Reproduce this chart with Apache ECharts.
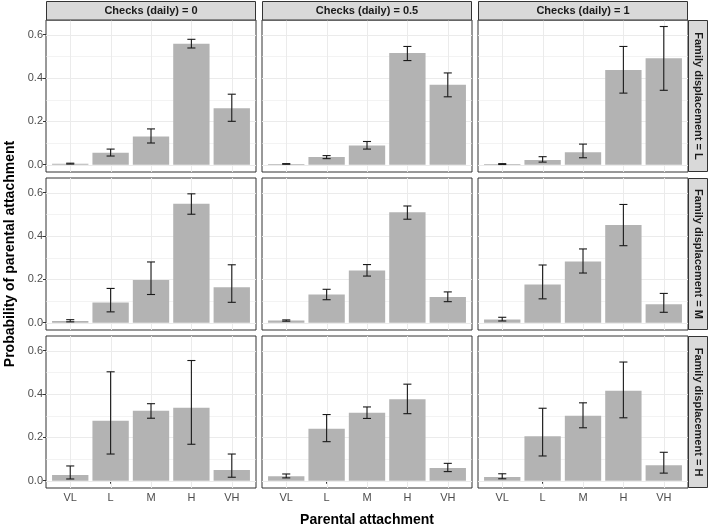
<!DOCTYPE html>
<html><head><meta charset="utf-8">
<script src="https://cdn.jsdelivr.net/npm/echarts@6/dist/echarts.min.js"></script>
<style>html,body{margin:0;padding:0;background:#fff}#c{width:709px;height:530px}</style>
</head><body><div id="c"></div>
<script>
// ---------- data ----------
const categories = ['VL', 'L', 'M', 'H', 'VH'];
const checkLevels = ['0', '0.5', '1'];
const displacementLevels = ['L', 'M', 'H'];
const yTickValues = [0, 0.2, 0.4, 0.6];
const yMinorValues = [0.1, 0.3, 0.5];

// Family displacement = L
const est_L_0 = [0.005, 0.055, 0.130, 0.558, 0.260];
const lo_L_0  = [0.003, 0.040, 0.100, 0.538, 0.200];
const hi_L_0  = [0.007, 0.072, 0.165, 0.578, 0.325];
const est_L_05 = [0.003, 0.035, 0.088, 0.515, 0.368];
const lo_L_05  = [0.002, 0.028, 0.072, 0.480, 0.313];
const hi_L_05  = [0.005, 0.042, 0.107, 0.545, 0.423];
const est_L_1 = [0.003, 0.022, 0.057, 0.436, 0.491];
const lo_L_1  = [0.001, 0.012, 0.032, 0.330, 0.343];
const hi_L_1  = [0.005, 0.037, 0.095, 0.545, 0.637];
// Family displacement = M
const est_M_0 = [0.008, 0.093, 0.197, 0.548, 0.164];
const lo_M_0  = [0.004, 0.050, 0.130, 0.500, 0.094];
const hi_M_0  = [0.014, 0.158, 0.280, 0.594, 0.267];
const est_M_05 = [0.010, 0.130, 0.241, 0.509, 0.119];
const lo_M_05  = [0.007, 0.106, 0.215, 0.477, 0.097];
const hi_M_05  = [0.013, 0.154, 0.268, 0.538, 0.142];
const est_M_1 = [0.015, 0.176, 0.282, 0.450, 0.085];
const lo_M_1  = [0.008, 0.110, 0.229, 0.355, 0.048];
const hi_M_1  = [0.025, 0.266, 0.340, 0.545, 0.135];
// Family displacement = H
const est_H_0 = [0.026, 0.276, 0.322, 0.336, 0.049];
const lo_H_0  = [0.008, 0.123, 0.288, 0.168, 0.016];
const hi_H_0  = [0.068, 0.502, 0.355, 0.554, 0.123];
const est_H_05 = [0.021, 0.239, 0.313, 0.376, 0.059];
const lo_H_05  = [0.013, 0.180, 0.287, 0.309, 0.042];
const hi_H_05  = [0.031, 0.305, 0.340, 0.445, 0.080];
const est_H_1 = [0.017, 0.205, 0.299, 0.415, 0.071];
const lo_H_1  = [0.009, 0.114, 0.244, 0.290, 0.035];
const hi_H_1  = [0.032, 0.334, 0.359, 0.547, 0.131];

const panels = [
  [[est_L_0, lo_L_0, hi_L_0], [est_L_05, lo_L_05, hi_L_05], [est_L_1, lo_L_1, hi_L_1]],
  [[est_M_0, lo_M_0, hi_M_0], [est_M_05, lo_M_05, hi_M_05], [est_M_1, lo_M_1, hi_M_1]],
  [[est_H_0, lo_H_0, hi_H_0], [est_H_05, lo_H_05, hi_H_05], [est_H_1, lo_H_1, hi_H_1]]
];

// ---------- layout / style ----------
const FONT = '"Liberation Sans", Arial, sans-serif';
const LEFT0 = 46, PW = 210, HGAP = 6;
const TOP0 = 20, PH = 152, VGAP = 6;
const Y_MIN = -0.0336, Y_MAX = 0.667;
const X_MIN = 0.4, X_MAX = 5.6;
const BAR_FILL = '#B3B3B3';
const GRID_COL = '#EBEBEB';
const STRIP_FILL = '#D9D9D9';
const BORDER = '#333333';

const grids = [], xAxes = [], yAxes = [], series = [], graphics = [];
let gi = 0;
for (let r = 0; r < 3; r++) {
  for (let c = 0; c < 3; c++) {
    const left = LEFT0 + c * (PW + HGAP);
    const top = TOP0 + r * (PH + VGAP);
    grids.push({left: left, top: top, width: PW, height: PH, show: true,
      backgroundColor: '#fff', borderColor: BORDER, borderWidth: 1, containLabel: false});
    const bottomRow = r === 2, leftCol = c === 0;
    xAxes.push({type: 'value', gridIndex: gi, min: X_MIN, max: X_MAX,
      axisLine: {show: false}, splitLine: {show: false},
      axisTick: {show: bottomRow, length: 3, lineStyle: {color: BORDER}, customValues: [1, 2, 3, 4, 5]},
      axisLabel: {show: bottomRow, customValues: [1, 2, 3, 4, 5], margin: 4,
        formatter: v => categories[Math.round(v) - 1] || '', color: '#4D4D4D', fontSize: 11, fontFamily: FONT}
    });
    yAxes.push({type: 'value', gridIndex: gi, min: Y_MIN, max: Y_MAX,
      axisLine: {show: false}, splitLine: {show: false},
      axisTick: {show: leftCol, length: 3, lineStyle: {color: BORDER}, customValues: yTickValues},
      axisLabel: {show: leftCol, customValues: yTickValues, margin: 3,
        formatter: v => Number(v).toFixed(1), color: '#4D4D4D', fontSize: 11, fontFamily: FONT}
    });
    // gridlines: [kind, value]  kind 0 = major h, 1 = minor h, 2 = major v
    const gridData = [];
    yMinorValues.forEach(v => gridData.push([1, v]));
    yTickValues.forEach(v => gridData.push([0, v]));
    categories.forEach((_, i) => gridData.push([2, i + 1]));
    series.push({type: 'custom', xAxisIndex: gi, yAxisIndex: gi, silent: true, z: 1,
      data: gridData, encode: {x: -1, y: -1},
      renderItem: (params, api) => {
        const kind = api.value(0), v = api.value(1);
        const cs = params.coordSys;
        if (kind === 2) {
          const x = Math.round(api.coord([v, 0])[0]) + 0.5;
          return {type: 'line', shape: {x1: x, y1: cs.y, x2: x, y2: cs.y + cs.height},
            style: {stroke: GRID_COL, lineWidth: 1}};
        }
        const y = Math.round(api.coord([1, v])[1]) + 0.5;
        return {type: 'line', shape: {x1: cs.x, y1: y, x2: cs.x + cs.width, y2: y},
          style: {stroke: GRID_COL, lineWidth: kind === 0 ? 1 : 0.6}};
      }
    });
    const [est, lo, hi] = panels[r][c];
    const barData = categories.map((_, i) => [i + 1, est[i], lo[i], hi[i]]);
    series.push({type: 'custom', xAxisIndex: gi, yAxisIndex: gi, z: 2,
      data: barData, encode: {x: 0, y: 1},
      renderItem: (params, api) => {
        const x = api.value(0), y = api.value(1);
        const p0 = api.coord([x - 0.45, y]);
        const p1 = api.coord([x + 0.45, 0]);
        return {type: 'rect', shape: {x: p0[0], y: p0[1], width: p1[0] - p0[0], height: p1[1] - p0[1]},
          style: {fill: BAR_FILL}};
      }
    });
    series.push({type: 'custom', xAxisIndex: gi, yAxisIndex: gi, z: 3,
      data: barData, encode: {x: 0, y: [2, 3]},
      renderItem: (params, api) => {
        const x = api.value(0);
        const pl = api.coord([x, api.value(2)]);
        const ph = api.coord([x, api.value(3)]);
        const cl = api.coord([x - 0.1, 0])[0], cr = api.coord([x + 0.1, 0])[0];
        const st = {stroke: '#1A1A1A', lineWidth: 1.1};
        return {type: 'group', children: [
          {type: 'line', shape: {x1: pl[0], y1: pl[1], x2: ph[0], y2: ph[1]}, style: st},
          {type: 'line', shape: {x1: cl, y1: pl[1], x2: cr, y2: pl[1]}, style: st},
          {type: 'line', shape: {x1: cl, y1: ph[1], x2: cr, y2: ph[1]}, style: st}
        ]};
      }
    });
    gi++;
  }
}

// strips (top)
for (let c = 0; c < 3; c++) {
  const left = LEFT0 + c * (PW + HGAP);
  graphics.push({type: 'rect', shape: {x: left + 0.5, y: 1.5, width: PW - 1, height: TOP0 - 1.5},
    style: {fill: STRIP_FILL, stroke: BORDER, lineWidth: 1}, z: 10});
  graphics.push({type: 'text', x: left + PW / 2, y: (TOP0 + 2) / 2,
    style: {text: 'Checks (daily) = ' + checkLevels[c], fill: '#1A1A1A', font: 'bold 11px ' + FONT,
      align: 'center', verticalAlign: 'middle'}, z: 11});
}
// strips (right)
const stripX = LEFT0 + 3 * PW + 2 * HGAP;
for (let r = 0; r < 3; r++) {
  const top = TOP0 + r * (PH + VGAP);
  graphics.push({type: 'rect', shape: {x: stripX + 0.5, y: top + 0.5, width: 19, height: PH - 1},
    style: {fill: STRIP_FILL, stroke: BORDER, lineWidth: 1}, z: 10});
  graphics.push({type: 'text', x: stripX + 10.5, y: top + PH / 2, rotation: -Math.PI / 2,
    style: {text: 'Family displacement = ' + displacementLevels[r], fill: '#1A1A1A', font: 'bold 11px ' + FONT,
      align: 'center', verticalAlign: 'middle'}, z: 11});
}
// axis titles
graphics.push({type: 'text', x: LEFT0 + (3 * PW + 2 * HGAP) / 2, y: 520,
  style: {text: 'Parental attachment', fill: '#000', font: 'bold 14px ' + FONT, align: 'center', verticalAlign: 'middle'}});
graphics.push({type: 'text', x: 10, y: TOP0 + (3 * PH + 2 * VGAP) / 2, rotation: Math.PI / 2,
  style: {text: 'Probability of parental attachment', fill: '#000', font: 'bold 14px ' + FONT, align: 'center', verticalAlign: 'middle'}});

const chart = echarts.init(document.getElementById('c'), null, {renderer: 'canvas'});
chart.setOption({
  animation: false,
  backgroundColor: '#fff',
  grid: grids, xAxis: xAxes, yAxis: yAxes, series: series, graphic: graphics
});
</script></body></html>
